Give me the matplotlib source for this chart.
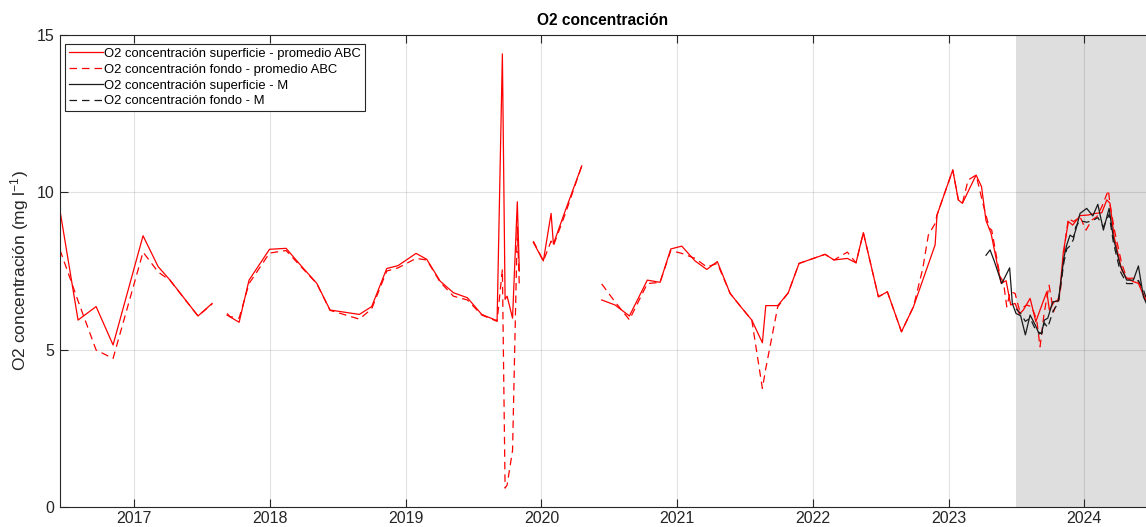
import numpy as np
import matplotlib
matplotlib.use("Agg")
import matplotlib.pyplot as plt

plt.rcParams['font.family'] = ['Liberation Sans', 'DejaVu Sans']
plt.rcParams['mathtext.fontset'] = 'custom'
plt.rcParams['mathtext.rm'] = 'Liberation Sans'
plt.rcParams['mathtext.it'] = 'Liberation Sans:italic'

nan = np.nan

# fecha en años decimales; nan separa los tramos sin datos
t_abc_sup = [2016.452, 2016.585, 2016.718, 2016.843, 2017.064, 2017.175, 2017.263, 2017.469, 2017.573,
             2017.63,
             2017.683, 2017.772, 2017.845, 2017.996, 2018.118, 2018.236, 2018.344, 2018.442, 2018.658,
             2018.749, 2018.860, 2018.943, 2019.076, 2019.155, 2019.253, 2019.351, 2019.454, 2019.560,
             2019.673, 2019.712, 2019.732, 2019.747, 2019.787, 2019.822, 2019.837,
             2019.89,
             2019.940, 2020.014, 2020.071, 2020.088, 2020.174, 2020.297,
             2020.37,
             2020.444, 2020.542, 2020.648, 2020.780, 2020.874, 2020.953, 2021.034, 2021.132, 2021.218,
             2021.296, 2021.390, 2021.464, 2021.550, 2021.628, 2021.653, 2021.741, 2021.819, 2021.898,
             2022.090, 2022.156, 2022.254, 2022.318, 2022.372, 2022.483, 2022.549, 2022.653, 2022.741,
             2022.901, 2022.915, 2023.031, 2023.072, 2023.102, 2023.203, 2023.243, 2023.276, 2023.313,
             2023.387, 2023.424, 2023.458, 2023.490, 2023.522, 2023.551, 2023.601, 2023.643, 2023.674,
             2023.724, 2023.743, 2023.778, 2023.814, 2023.846, 2023.883, 2023.915, 2023.969, 2024.030,
             2024.080, 2024.129, 2024.166, 2024.190, 2024.220, 2024.276, 2024.313, 2024.362, 2024.399,
             2024.441, 2024.460]
o2_abc_sup = [9.42, 5.94, 6.37, 5.15, 8.62, 7.64, 7.21, 6.07, 6.47,
              nan,
              6.10, 5.87, 7.21, 8.19, 8.22, 7.63, 7.11, 6.26, 6.12,
              6.37, 7.58, 7.67, 8.06, 7.87, 7.18, 6.81, 6.65, 6.12,
              5.92, 14.40, 6.60, 6.70, 6.00, 9.70, 7.50,
              nan,
              8.41, 7.82, 9.33, 8.36, 9.40, 10.84,
              nan,
              6.58, 6.42, 6.07, 7.21, 7.14, 8.20, 8.29, 7.82, 7.55,
              7.80, 6.79, 6.39, 5.94, 5.22, 6.40, 6.40, 6.81, 7.74,
              8.03, 7.85, 7.90, 7.76, 8.72, 6.68, 6.84, 5.57, 6.36,
              8.33, 9.28, 10.71, 9.76, 9.65, 10.55, 10.18, 9.10, 8.70,
              7.11, 7.19, 6.42, 6.47, 6.13, 6.26, 6.63, 5.89, 6.26,
              6.84, 6.26, 6.52, 6.58, 8.11, 9.07, 8.96, 9.26, 9.28,
              9.33, 9.35, 9.76, 9.65, 8.59, 7.53, 7.27, 7.16, 7.11,
              6.68, 6.50]

t_abc_fon = [2016.452, 2016.585, 2016.718, 2016.843, 2017.064, 2017.175, 2017.263, 2017.469, 2017.573,
             2017.63,
             2017.683, 2017.705, 2017.772, 2017.845, 2017.996, 2018.118, 2018.236, 2018.344, 2018.442,
             2018.658, 2018.749, 2018.860, 2018.943, 2019.076, 2019.155, 2019.253, 2019.351, 2019.454,
             2019.560, 2019.673, 2019.712, 2019.732, 2019.747, 2019.787, 2019.822, 2019.837,
             2019.89,
             2019.940, 2020.014, 2020.071, 2020.088, 2020.174, 2020.297,
             2020.37,
             2020.444, 2020.542, 2020.648, 2020.780, 2020.874, 2020.953, 2021.034, 2021.132, 2021.218,
             2021.296, 2021.390, 2021.464, 2021.550, 2021.628, 2021.653, 2021.741, 2021.819, 2021.898,
             2022.090, 2022.156, 2022.254, 2022.318, 2022.372, 2022.483, 2022.549, 2022.653, 2022.741,
             2022.810, 2022.851, 2022.901, 2022.915, 2023.031, 2023.072, 2023.102, 2023.144, 2023.203,
             2023.256, 2023.301, 2023.318, 2023.380, 2023.404, 2023.429, 2023.454, 2023.490, 2023.522,
             2023.576, 2023.613, 2023.650, 2023.674, 2023.704, 2023.741, 2023.773, 2023.822, 2023.859,
             2023.883, 2023.920, 2023.969, 2024.013, 2024.055, 2024.092, 2024.129, 2024.178, 2024.190,
             2024.227, 2024.276, 2024.313, 2024.362, 2024.399, 2024.460]
o2_abc_fon = [8.17, 6.55, 4.99, 4.72, 8.10, 7.47, 7.20, 6.07, 6.45,
              nan,
              6.15, 6.05, 6.00, 7.10, 8.07, 8.15, 7.60, 7.10, 6.25,
              5.97, 6.30, 7.50, 7.60, 7.90, 7.85, 7.15, 6.70, 6.58,
              6.10, 5.90, 7.55, 0.60, 0.70, 1.80, 8.90, 7.00,
              nan,
              8.45, 7.82, 8.45, 8.30, 9.30, 10.84,
              nan,
              7.09, 6.52, 5.95, 7.10, 7.14, 8.15, 8.06, 7.90, 7.63,
              7.74, 6.79, 6.39, 5.94, 3.77, 4.40, 6.36, 6.81, 7.74,
              8.03, 7.85, 8.10, 7.76, 8.72, 6.68, 6.84, 5.57, 6.36,
              7.58, 8.64, 9.01, 9.28, 10.71, 9.76, 9.65, 10.39, 10.55,
              9.60, 8.86, 8.80, 7.32, 7.16, 6.36, 6.84, 6.79, 6.26,
              6.42, 6.36, 5.94, 5.09, 6.15, 7.05, 6.20, 6.79, 8.43,
              9.17, 9.07, 9.22, 8.80, 9.12, 9.22, 9.54, 10.07, 9.60,
              8.70, 7.74, 7.27, 7.27, 7.16, 6.50]

t_m_sup = [2023.276, 2023.306, 2023.338, 2023.392, 2023.450, 2023.470, 2023.497, 2023.531, 2023.566,
           2023.601, 2023.643, 2023.667, 2023.687, 2023.706, 2023.731, 2023.768, 2023.809, 2023.851,
           2023.871, 2023.895, 2023.920, 2023.937, 2023.969, 2024.018, 2024.063, 2024.100, 2024.141,
           2024.183, 2024.215, 2024.264, 2024.313, 2024.362, 2024.399, 2024.436, 2024.460]
o2_m_sup = [8.00, 8.17, 7.80, 7.10, 7.60, 6.47, 6.15, 6.08, 5.47,
            6.10, 5.75, 5.50, 5.55, 5.94, 6.00, 6.52, 6.55, 7.95,
            8.33, 8.64, 8.57, 8.80, 9.33, 9.49, 9.25, 9.62, 8.80,
            9.49, 8.54, 7.69, 7.21, 7.21, 7.66, 6.68, 6.45]

t_m_fon = [2023.497, 2023.531, 2023.566, 2023.601, 2023.645, 2023.687, 2023.706, 2023.731, 2023.768,
           2023.809, 2023.851, 2023.871, 2023.895, 2023.920, 2023.937, 2023.969, 2024.018, 2024.063,
           2024.100, 2024.141, 2024.183, 2024.215, 2024.264, 2024.313, 2024.362, 2024.399, 2024.436,
           2024.460]
o2_m_fon = [6.30, 6.15, 5.90, 6.00, 5.60, 5.50, 5.85, 5.70, 6.20,
            6.50, 7.80, 8.20, 8.30, 8.50, 8.90, 9.10, 9.05, 9.10,
            9.20, 8.90, 9.30, 8.40, 7.50, 7.10, 7.10, 7.20, 6.90,
            6.60]

years = [2017, 2018, 2019, 2020, 2021, 2022, 2023, 2024]
periodo_sombreado = (2023.497, 2024.6)

fig = plt.figure(figsize=(11.46, 5.27), dpi=100)
ax = fig.add_axes([60 / 1146, 20 / 527, 1086 / 1146, 472 / 527])

ax.axvspan(*periodo_sombreado, color='#dedede', lw=0, zorder=1)

ax.plot(t_abc_sup, o2_abc_sup, color='red', lw=0.9, label='O2 concentración superficie - promedio ABC')
ax.plot(t_abc_fon, o2_abc_fon, color='red', lw=0.9, ls=(0, (6, 4)), label='O2 concentración fondo - promedio ABC')
ax.plot(t_m_sup, o2_m_sup, color='#1a1a1a', lw=0.9, label='O2 concentración superficie - M')
ax.plot(t_m_fon, o2_m_fon, color='#1a1a1a', lw=0.9, ls=(0, (6, 4)), label='O2 concentración fondo - M')

ax.set_xlim(2016.452, 2024.455)
ax.set_ylim(0, 15)
ax.set_xticks(years)
ax.set_xticklabels([str(y) for y in years])
ax.set_yticks([0, 5, 10, 15])

axcol = '#262626'
ax.grid(True, color='#262626', alpha=0.13, lw=0.8)
ax.tick_params(direction='in', length=6, width=0.8, colors=axcol, labelsize=11.5,
               top=True, right=False, pad=4)
ax.tick_params(axis='x', pad=3)
for side in ['left', 'bottom', 'top']:
    ax.spines[side].set_color(axcol)
    ax.spines[side].set_linewidth(0.8)
ax.spines['right'].set_visible(False)

ax.set_title('O2 concentración', fontsize=11.2, fontweight='bold', pad=7)
ax.set_ylabel('O2 concentración (mg l$^{-1}$)', fontsize=12.5, color=axcol, labelpad=4)

leg = ax.legend(loc='upper left', bbox_to_anchor=(0.0046, 0.981), borderaxespad=0,
                fancybox=False, framealpha=1, edgecolor='#262626', fontsize=9.4,
                handlelength=2.6, handletextpad=0.1, borderpad=0.3, labelspacing=0.28)
leg.get_frame().set_linewidth(0.8)

fig.savefig('out.png', dpi=100)
